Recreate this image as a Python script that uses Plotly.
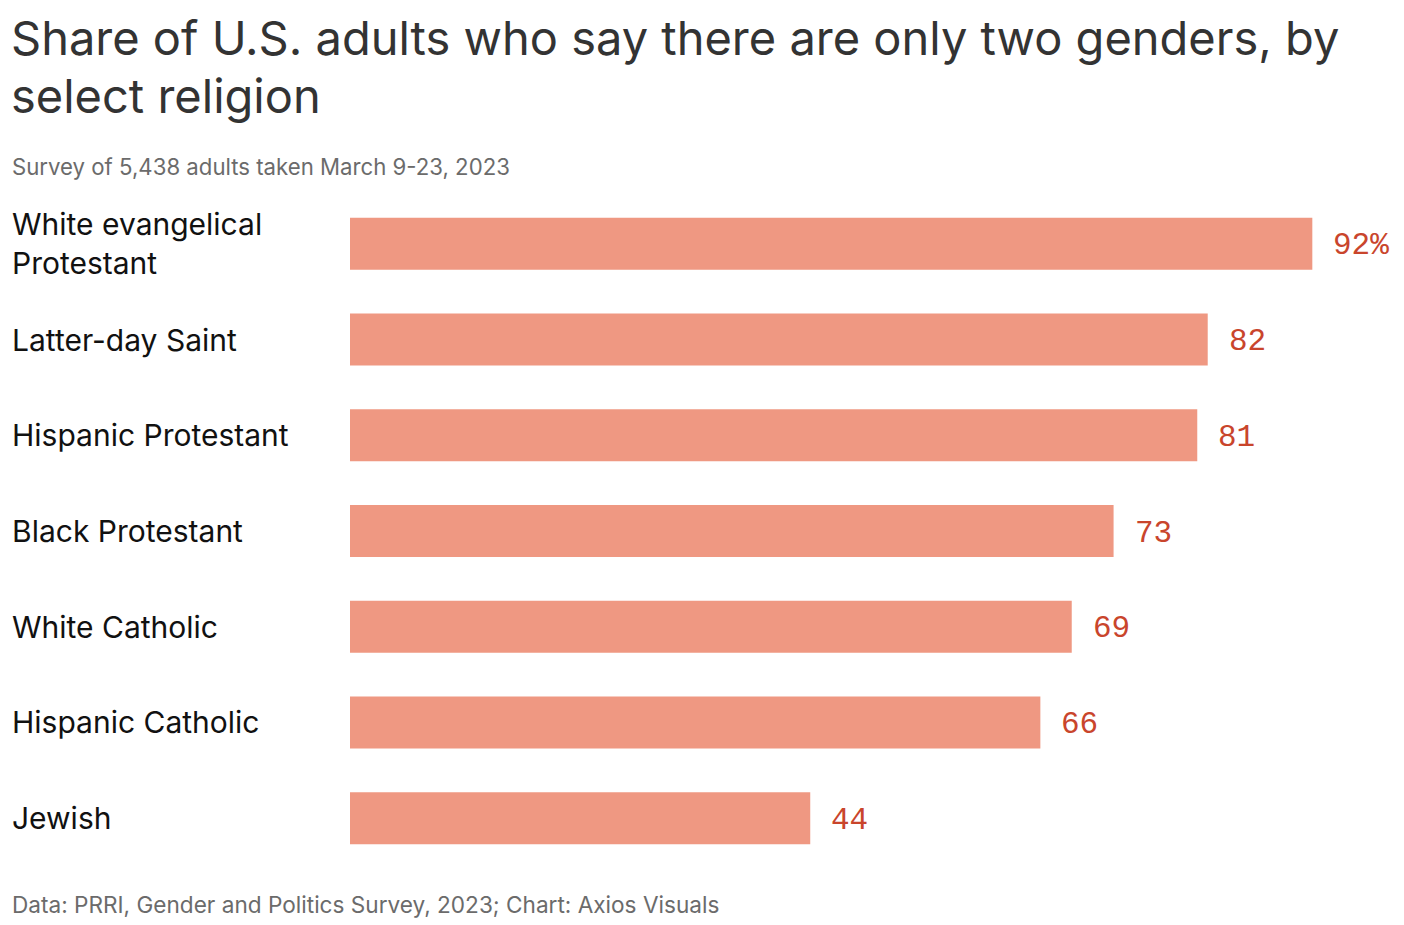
import plotly.graph_objects as go

categories = ["White evangelical<br>Protestant", "Latter-day Saint", "Hispanic Protestant",
              "Black Protestant", "White Catholic", "Hispanic Catholic", "Jewish"]
values = [92, 82, 81, 73, 69, 66, 44]
value_labels = ["92%", "82", "81", "73", "69", "66", "44"]
title_lines = ["Share of U.S. adults who say there are only two genders, by", "select religion"]

BAR = "#EF9882"
VAL = "#C9452C"
SANS = "Inter, Roboto, sans-serif"

ypos = list(range(len(categories)))

fig = go.Figure(go.Bar(
    x=values, y=ypos, orientation="h",
    marker=dict(color=BAR, line=dict(width=0)),
    width=0.5435, hoverinfo="skip",
))

# page body has an 8px margin; work in figure coordinates = reference - 8
OFF = 8
W, H = 1404 - OFF, 925 - OFF
L, T = 350 - OFF, 196 - OFF
R = 8
B = H - (866 - OFF)
pw = W - L - R
ph = H - T - B


def px_x(x):
    return (x - OFF - L) / pw


def px_y(y):
    return (H - B - (y - OFF)) / ph


ann = []
for i, (c, v, lab) in enumerate(zip(categories, values, value_labels)):
    ann.append(dict(x=px_x(10), xref="paper", y=i, yref="y", text=c,
                    xanchor="left", yanchor="middle", showarrow=False, align="left",
                    font=dict(family=SANS, size=30, color="#111111")))
    ann.append(dict(x=v, xref="x", y=i, yref="y", text=lab,
                    xanchor="left", yanchor="middle", showarrow=False, xshift=19, yshift=-2,
                    font=dict(family="Liberation Mono, monospace", size=31, color=VAL)))

title_tops = [8.5, 66]
for line, top in zip(title_lines, title_tops):
    ann.append(dict(text=line, xref="paper", yref="paper", x=px_x(10), y=px_y(top),
                    xanchor="left", yanchor="top", align="left", showarrow=False, borderpad=0,
                    font=dict(family=SANS, size=47, color="#333333")))
ann.append(dict(text="Survey of 5,438 adults taken March 9-23, 2023",
                xref="paper", yref="paper", x=px_x(10), y=px_y(167),
                xanchor="left", yanchor="middle", showarrow=False,
                font=dict(family=SANS, size=22.2, color="#6b6b6b")))
ann.append(dict(text="Data: PRRI, Gender and Politics Survey, 2023; Chart: Axios Visuals",
                xref="paper", yref="paper", x=px_x(10), y=px_y(904),
                xanchor="left", yanchor="middle", showarrow=False,
                font=dict(family=SANS, size=22.6, color="#6b6b6b")))

fig.update_layout(
    width=W, height=H,
    margin=dict(l=L, r=R, t=T, b=B),
    plot_bgcolor="white", paper_bgcolor="white",
    showlegend=False,
    xaxis=dict(range=[0, 100], visible=False, fixedrange=True),
    yaxis=dict(range=[6.5, -0.5], visible=False, fixedrange=True),
    annotations=ann,
)

fig.write_html("out.html")
